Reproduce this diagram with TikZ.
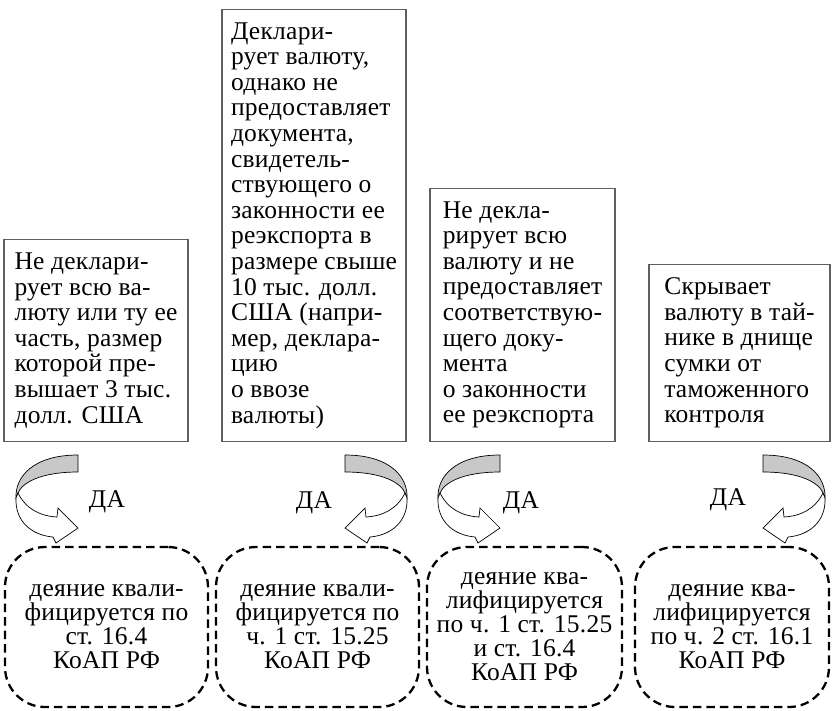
\documentclass[tikz,border=0pt]{standalone}
\usepackage{fontspec}
\setmainfont{Liberation Serif}[LetterSpace=1]
\usepackage{tikz}
\usetikzlibrary{calc}
\definecolor{ribbongray}{RGB}{200,200,200}
\definecolor{framegray}{RGB}{95,95,95}
\newcommand{\yesarrow}[2]{%
\begin{scope}[shift={(#1)},xscale=#2,line width=0.7pt]
\filldraw[fill=ribbongray] (0,0) .. controls (-45,0) and (-63,22) .. (-62,43) -- (-60,38) .. controls (-56,28) and (-38,17) .. (0,17) -- cycle;
\filldraw[fill=white] (-60,38) .. controls (-52,54) and (-38,61) .. (-21,62) -- (-20,53) -- (0,73) -- (-22,88) -- (-25,82) .. controls (-48,80) and (-63,65) .. (-62,43) -- cycle;
\end{scope}}

\begin{document}
\begin{tikzpicture}[x=1pt,y=-1pt,every node/.style={font=\fontsize{25.5pt}{25.6pt}\selectfont}]
\tikzstyle{cond}=[draw=framegray,line width=1.2pt,align=left,anchor=south,inner sep=0pt,minimum width=184pt]
\tikzstyle{verdict}=[draw,line width=2.3pt,dash pattern=on 8.5pt off 5pt,rounded corners=40pt,align=center,inner sep=0pt,minimum height=160pt,font=\fontsize{25.5pt}{24pt}\selectfont]
\useasboundingbox (0,0) rectangle (832,710);
\node[cond,minimum height=202pt] (q1) at (96,442) {Не деклари-\\рует всю ва-\\люту или ту ее\\часть, размер\\которой пре-\\вышает 3 тыс.\\долл. США};
\node[cond,minimum height=432pt] (q2) at (314,442) {Деклари-\\рует валюту,\\однако не\\предоставляет\\документа,\\свидетель-\\ствующего о\\законности ее\\реэкспорта в\\размере свыше\\10 тыс. долл.\\США (напри-\\мер, деклара-\\цию\\о ввозе\\валюты)};
\node[cond,minimum height=253pt,minimum width=185pt] (q3) at (522.5,442) {Не декла-\\рирует всю\\валюту и не\\предоставляет\\соответствую-\\щего доку-\\мента\\о законности\\ее реэкспорта};
\node[cond,minimum height=177pt,minimum width=181pt] (q4) at (739.5,442) {Скрывает\\валюту в тай-\\нике в днище\\сумки от\\таможенного\\контроля};
\yesarrow{78,455}{1}
\yesarrow{345,455}{-1}
\yesarrow{500,455}{1}
\yesarrow{763,455}{-1}
\node (y1) at (107,502) {ДА};
\node (y2) at (314,503) {ДА};
\node (y3) at (521,503) {ДА};
\node (y4) at (728,500) {ДА};
\node[verdict,minimum width=203pt] (r1) at (106.5,627) {деяние квали-\\фицируется по\\ст. 16.4\\КоАП РФ};
\node[verdict,minimum width=203pt] (r2) at (317.5,627) {деяние квали-\\фицируется по\\ч. 1 ст. 15.25\\КоАП РФ};
\node[verdict,minimum width=195pt] (r3) at (524.5,627) {деяние ква-\\лифицируется\\по ч. 1 ст. 15.25\\и ст. 16.4\\КоАП РФ};
\node[verdict,minimum width=194pt] (r4) at (732,627) {деяние ква-\\лифицируется\\по ч. 2 ст. 16.1\\КоАП РФ};
\end{tikzpicture}
\end{document}
